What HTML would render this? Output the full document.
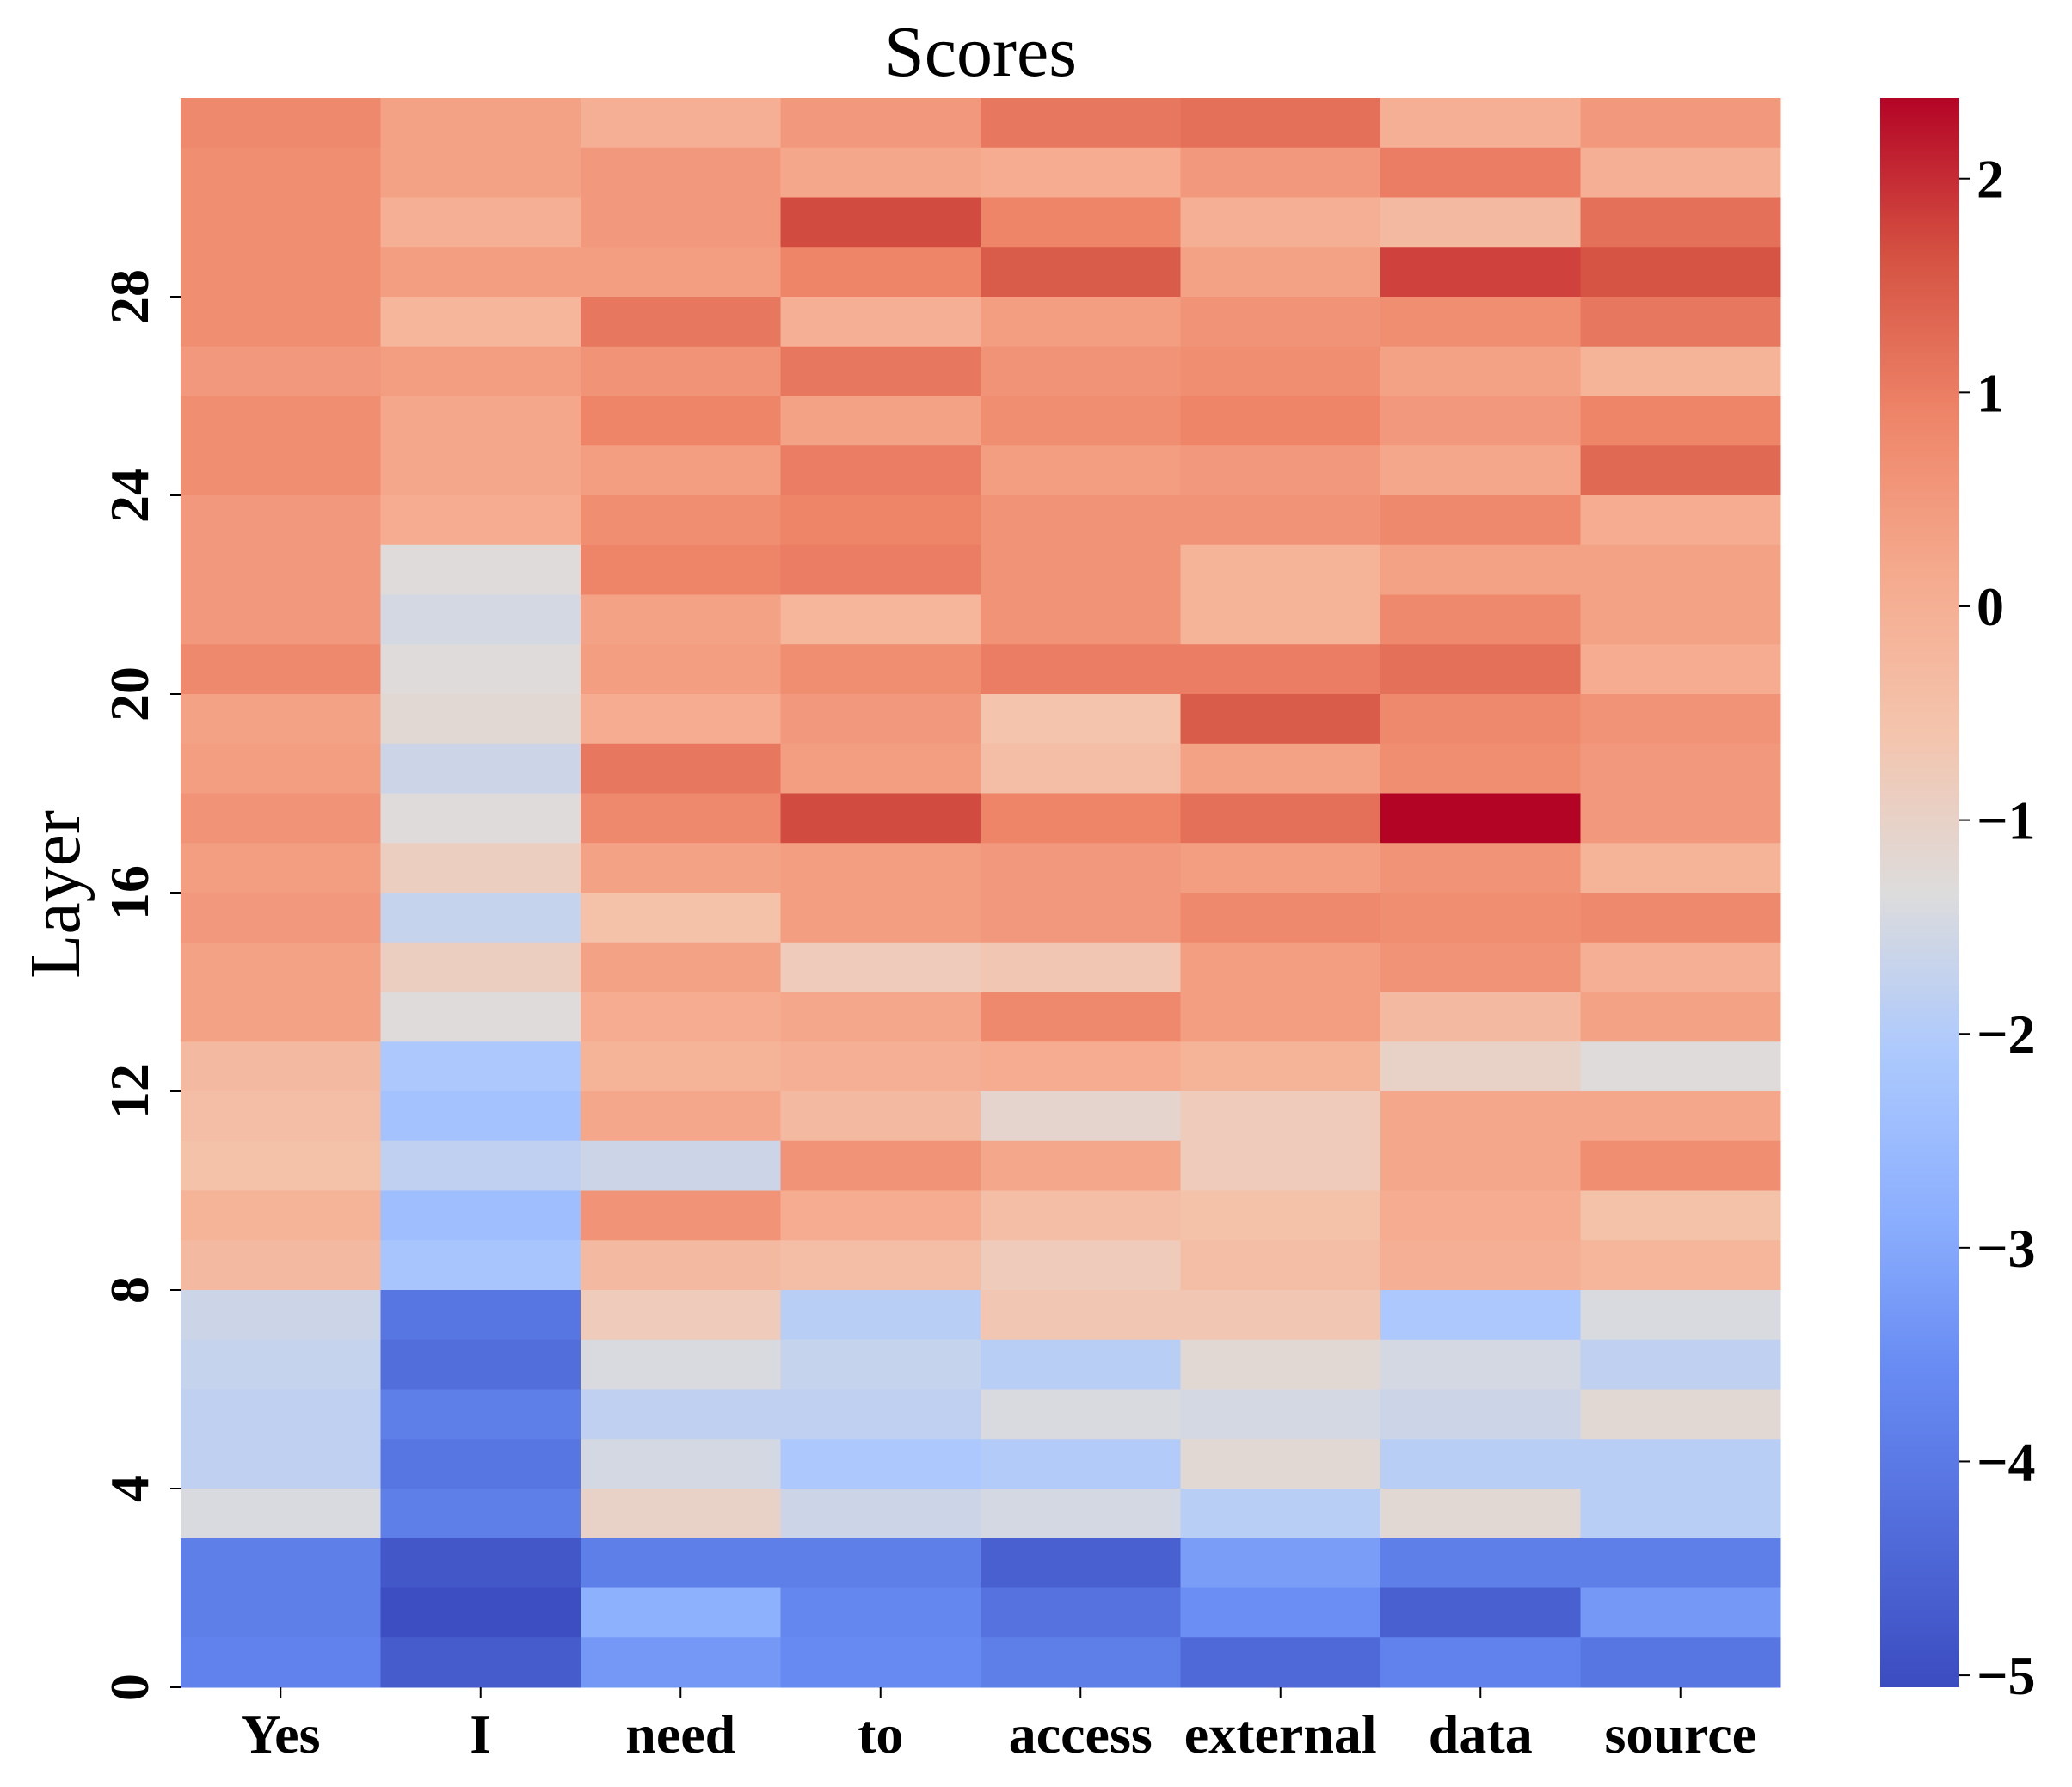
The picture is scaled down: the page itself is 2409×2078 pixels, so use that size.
<!DOCTYPE html>
<html><head><meta charset="utf-8"><style>
html,body{margin:0;padding:0;background:#fff}
svg{display:block}
text{font-family:"Liberation Serif","DejaVu Serif",serif;fill:#000}
</style></head><body>
<svg id="chart" width="2409" height="2078" viewBox="0 0 2409 2078" xmlns="http://www.w3.org/2000/svg">
<text x="1140" y="88" font-size="84" text-anchor="middle">Scores</text>
<text x="0" y="0" font-size="84" text-anchor="middle" transform="translate(92,1040) rotate(-90)">Layer</text>
<g id="cells"></g>
<g id="xaxis"></g>
<g id="yaxis"></g>
<g id="cbar"></g>
</svg>
<script>
const tokens = ["Yes","I","need","to","access","external","data","source"];
const layerTicks = [0,4,8,12,16,20,24,28];
const cbarTicks = [2,1,0,-1,-2,-3,-4,-5];
// rows listed from layer 31 (top) down to layer 0
const scores = [
[0.8,0.3,0.0,0.5,1.1,1.2,0.0,0.5],
[0.7,0.3,0.5,0.2,0.1,0.5,1.0,0.0],
[0.7,0.0,0.5,1.7,0.9,0.0,-0.3,1.2],
[0.7,0.4,0.4,0.9,1.5,0.3,1.8,1.6],
[0.7,-0.2,1.1,0.0,0.4,0.6,0.7,1.1],
[0.5,0.4,0.6,1.1,0.6,0.7,0.3,-0.1],
[0.7,0.2,0.9,0.3,0.7,0.9,0.5,0.9],
[0.7,0.2,0.4,1.0,0.4,0.5,0.2,1.3],
[0.5,0.1,0.7,0.9,0.6,0.6,0.8,0.1],
[0.5,-1.3,0.9,1.0,0.6,-0.1,0.3,0.3],
[0.5,-1.5,0.3,-0.2,0.6,-0.1,0.8,0.3],
[0.8,-1.3,0.4,0.7,1.0,1.0,1.2,0.1],
[0.3,-1.2,0.1,0.5,-0.6,1.5,0.8,0.6],
[0.4,-1.6,1.1,0.4,-0.4,0.3,0.7,0.5],
[0.6,-1.3,0.8,1.7,0.9,1.2,2.38,0.5],
[0.4,-0.9,0.3,0.4,0.5,0.4,0.6,-0.1],
[0.5,-1.7,-0.5,0.4,0.5,0.8,0.7,0.8],
[0.3,-0.9,0.3,-0.8,-0.7,0.4,0.6,0.0],
[0.3,-1.3,0.1,0.2,0.8,0.4,-0.3,0.3],
[-0.3,-2.1,-0.1,0.0,0.1,-0.1,-1.0,-1.3],
[-0.4,-2.3,0.2,-0.3,-1.1,-0.8,0.2,0.2],
[-0.5,-1.8,-1.6,0.6,0.2,-0.8,0.2,0.7],
[-0.1,-2.4,0.6,0.1,-0.4,-0.5,0.1,-0.5],
[-0.3,-2.2,-0.3,-0.4,-0.8,-0.4,0.0,-0.2],
[-1.6,-4.1,-0.8,-1.9,-0.7,-0.7,-2.1,-1.4],
[-1.7,-4.3,-1.4,-1.7,-1.9,-1.2,-1.5,-1.8],
[-1.8,-3.9,-1.8,-1.8,-1.4,-1.5,-1.6,-1.2],
[-1.8,-4.1,-1.5,-2.1,-2.0,-1.2,-1.9,-1.9],
[-1.4,-3.9,-1.0,-1.6,-1.5,-1.9,-1.2,-1.9],
[-3.9,-4.8,-3.9,-3.9,-4.6,-3.2,-3.9,-3.9],
[-3.9,-5.0,-2.8,-3.7,-4.2,-3.5,-4.6,-3.3],
[-3.8,-4.7,-3.3,-3.6,-3.9,-4.4,-3.8,-4.1]
];
const vmin=-5.056, vmax=2.377;
const cm=[[59,76,192],[82,109,219],[104,139,243],[141,176,254],[173,201,253],[221,220,220],[244,196,173],[245,170,142],[238,133,105],[213,82,66],[180,4,38]];
function color(v){let t=(v-vmin)/(vmax-vmin);t=Math.max(0,Math.min(1,t));const p=t*10,i=Math.min(9,Math.floor(p)),f=p-i;const a=cm[i],b=cm[i+1];return 'rgb('+a.map((c,k)=>Math.round(c+(b[k]-c)*f)).join(',')+')';}
const NS='http://www.w3.org/2000/svg';
const L=210,T=114,R=2070,B=1962;
const nR=scores.length,nC=tokens.length;
const cw=(R-L)/nC, rh=(B-T)/nR;
const xPos=c=>L+c*cw;
const yLayer=l=>B-l*rh;
function mk(tag,attrs,parent){const e=document.createElementNS(NS,tag);for(const k in attrs)e.setAttribute(k,attrs[k]);parent.appendChild(e);return e;}
const cells=document.getElementById('cells');
scores.forEach((row,ri)=>{const layer=nR-1-ri;row.forEach((v,ci)=>{
 const r=mk('rect',{x:xPos(ci),y:yLayer(layer+1),width:cw+0.5,height:rh+0.5,fill:color(v)},cells);
 
 
});});
const xa=document.getElementById('xaxis');
tokens.forEach((t,i)=>{const cx=xPos(i)+cw/2;
 mk('line',{x1:cx,y1:B,x2:cx,y2:B+12,stroke:'#000','stroke-width':2},xa);
 const tx=mk('text',{x:cx,y:B+76,'font-size':64,'font-weight':'bold','text-anchor':'middle'},xa);tx.textContent=t;
 
 
});
const ya=document.getElementById('yaxis');
layerTicks.forEach(l=>{const y=yLayer(l);
 mk('line',{x1:L-12,y1:y,x2:L,y2:y,stroke:'#000','stroke-width':2},ya);
 const tx=mk('text',{x:0,y:0,'font-size':64,'font-weight':'bold','text-anchor':'middle',transform:'translate(172,'+y+') rotate(-90)'},ya);tx.textContent=l;
 
 
});
const cb=document.getElementById('cbar');
const CL=2186,CR=2278;
const cy=v=>B-(v-vmin)/(vmax-vmin)*(B-T);
const defs=mk('defs',{},cb);
const g=mk('linearGradient',{id:'cg',x1:0,y1:1,x2:0,y2:0},defs);
for(let i=0;i<=40;i++){const v=vmin+(vmax-vmin)*i/40;mk('stop',{offset:(i/40),'stop-color':color(v)},g);}
const bar=mk('rect',{x:CL,y:T,width:CR-CL,height:B-T,fill:'url(#cg)'},cb);


cbarTicks.forEach(v=>{const y=cy(v);
 mk('line',{x1:CR,y1:y,x2:CR+12,y2:y,stroke:'#000','stroke-width':2},cb);
 const tx=mk('text',{x:CR+20,y:y+22,'font-size':64,'font-weight':'bold'},cb);tx.textContent=v<0?'\u2212'+(-v):String(v);
 
 
});
</script>
</body></html>
